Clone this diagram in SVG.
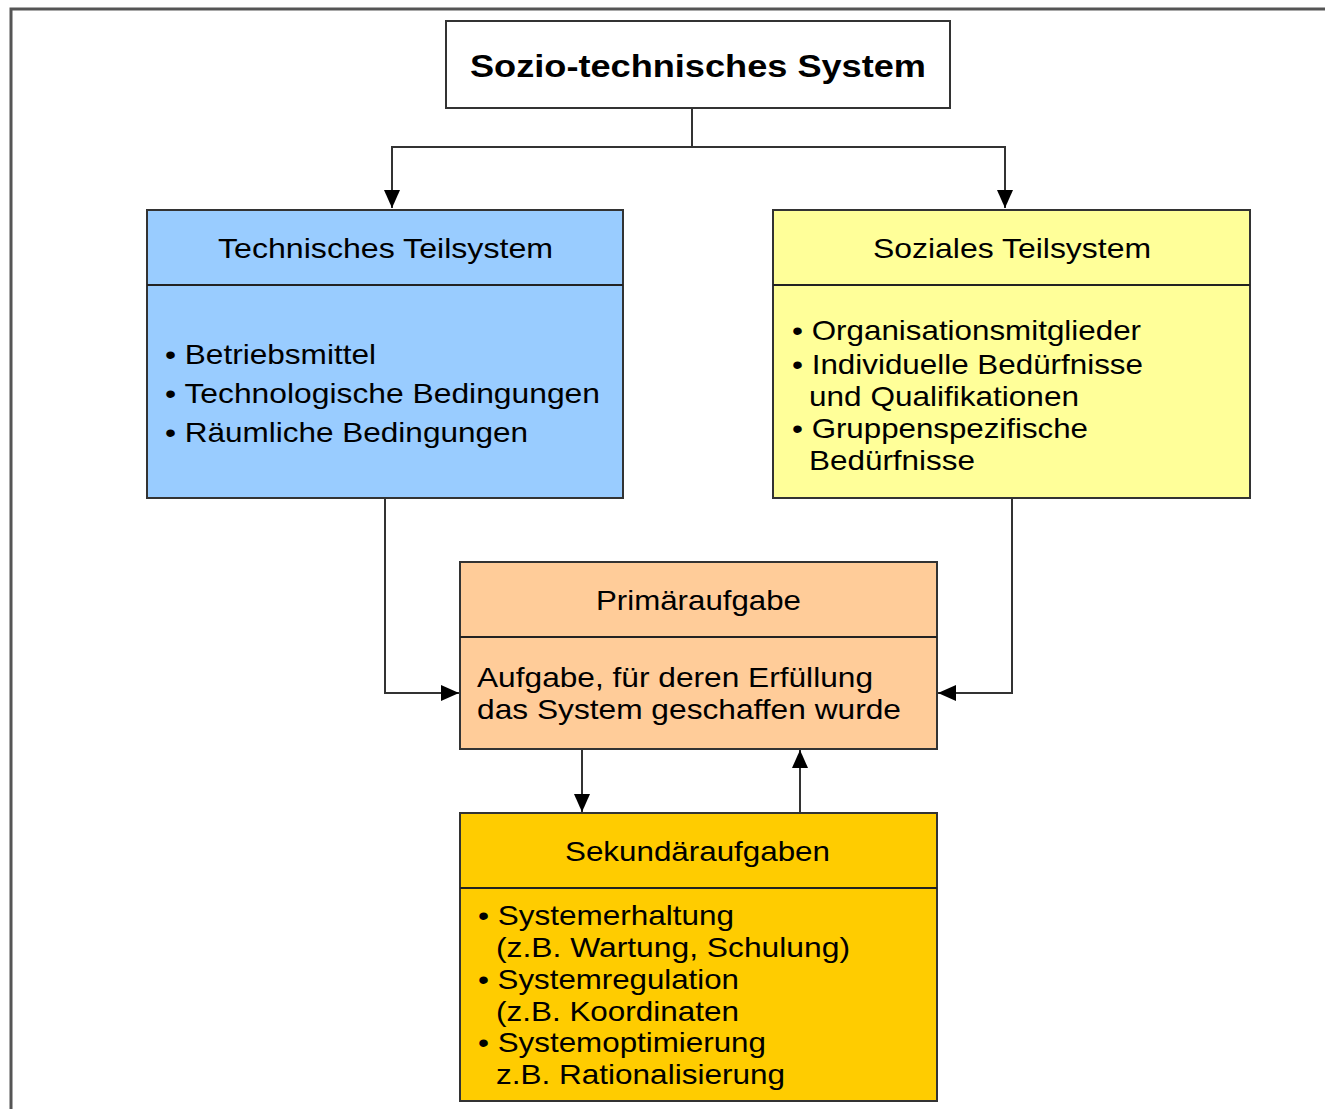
<svg xmlns="http://www.w3.org/2000/svg" width="1325" height="1109" viewBox="0 0 1325 1109">
<defs>
<marker id="arrL" markerWidth="18" markerHeight="16" refX="18" refY="8" orient="auto" markerUnits="userSpaceOnUse" viewBox="0 0 18 16">
<path d="M0,0 L18,8 L0,16 Z" fill="#000"/>
</marker>
</defs>
<style>
.box{stroke:#333;stroke-width:2}
.div{stroke:#222;stroke-width:2}
.t{font-family:"Liberation Sans",Arial,sans-serif;font-size:28px;fill:#000}
.h{font-family:"Liberation Sans",Arial,sans-serif;font-size:28px;fill:#000}
.c{fill:none;stroke:#333;stroke-width:2}
</style>
<rect width="1325" height="1109" fill="#fff"/>
<path d="M11,1109 V9 H1325" fill="none" stroke="#555" stroke-width="3"/>
<g id="connectors">
<path class="c" d="M692,108 V147 H392 V208" marker-end="url(#arrL)"/>
<path class="c" d="M692,147 H1005 V208" marker-end="url(#arrL)"/>
<path class="c" d="M385,498 V693 H459" marker-end="url(#arrL)"/>
<path class="c" d="M1012,498 V693 H938" marker-end="url(#arrL)"/>
<path class="c" d="M582,749 V812" marker-end="url(#arrL)"/>
<path class="c" d="M800,813 V750" marker-end="url(#arrL)"/>
</g>
<g id="root">
<rect class="box" x="446" y="21" width="504" height="87" fill="#fff"/>
<text x="470" y="77" font-family="'Liberation Sans',Arial,sans-serif" font-size="32" font-weight="bold" textLength="456" lengthAdjust="spacingAndGlyphs">Sozio-technisches System</text>
</g>
<g id="technisch">
<rect class="box" x="147" y="210" width="476" height="288" fill="#99CCFF"/>
<line class="div" x1="147" y1="285" x2="623" y2="285"/>
<text class="h" x="218" y="258" textLength="335" lengthAdjust="spacingAndGlyphs">Technisches Teilsystem</text>
<text class="t" x="165" y="364" textLength="211" lengthAdjust="spacingAndGlyphs">• Betriebsmittel</text>
<text class="t" x="165" y="403" textLength="435" lengthAdjust="spacingAndGlyphs">• Technologische Bedingungen</text>
<text class="t" x="165" y="442" textLength="363" lengthAdjust="spacingAndGlyphs">• Räumliche Bedingungen</text>
</g>
<g id="sozial">
<rect class="box" x="773" y="210" width="477" height="288" fill="#FFFF99"/>
<line class="div" x1="773" y1="285" x2="1250" y2="285"/>
<text class="h" x="873" y="258" textLength="278" lengthAdjust="spacingAndGlyphs">Soziales Teilsystem</text>
<text class="t" x="792" y="340" textLength="349" lengthAdjust="spacingAndGlyphs">• Organisationsmitglieder</text>
<text class="t" x="792" y="374" textLength="351" lengthAdjust="spacingAndGlyphs">• Individuelle Bedürfnisse</text>
<text class="t" x="809" y="406" textLength="270" lengthAdjust="spacingAndGlyphs">und Qualifikationen</text>
<text class="t" x="792" y="438" textLength="296" lengthAdjust="spacingAndGlyphs">• Gruppenspezifische</text>
<text class="t" x="809" y="470" textLength="166" lengthAdjust="spacingAndGlyphs">Bedürfnisse</text>
</g>
<g id="primaer">
<rect class="box" x="460" y="562" width="477" height="187" fill="#FFCC99"/>
<line class="div" x1="460" y1="637" x2="937" y2="637"/>
<text class="h" x="596" y="610" textLength="205" lengthAdjust="spacingAndGlyphs">Primäraufgabe</text>
<text class="t" x="477" y="687" textLength="396" lengthAdjust="spacingAndGlyphs">Aufgabe, für deren Erfüllung</text>
<text class="t" x="477" y="719" textLength="424" lengthAdjust="spacingAndGlyphs">das System geschaffen wurde</text>
</g>
<g id="sekundaer">
<rect class="box" x="460" y="813" width="477" height="288" fill="#FFCC00"/>
<line class="div" x1="460" y1="888" x2="937" y2="888"/>
<text class="h" x="565" y="861" textLength="265" lengthAdjust="spacingAndGlyphs">Sekundäraufgaben</text>
<text class="t" x="478" y="925" textLength="256" lengthAdjust="spacingAndGlyphs">• Systemerhaltung</text>
<text class="t" x="496" y="957" textLength="354" lengthAdjust="spacingAndGlyphs">(z.B. Wartung, Schulung)</text>
<text class="t" x="478" y="989" textLength="261" lengthAdjust="spacingAndGlyphs">• Systemregulation</text>
<text class="t" x="496" y="1021" textLength="243" lengthAdjust="spacingAndGlyphs">(z.B. Koordinaten</text>
<text class="t" x="478" y="1052" textLength="288" lengthAdjust="spacingAndGlyphs">• Systemoptimierung</text>
<text class="t" x="496" y="1084" textLength="289" lengthAdjust="spacingAndGlyphs">z.B. Rationalisierung</text>
</g>
</svg>
